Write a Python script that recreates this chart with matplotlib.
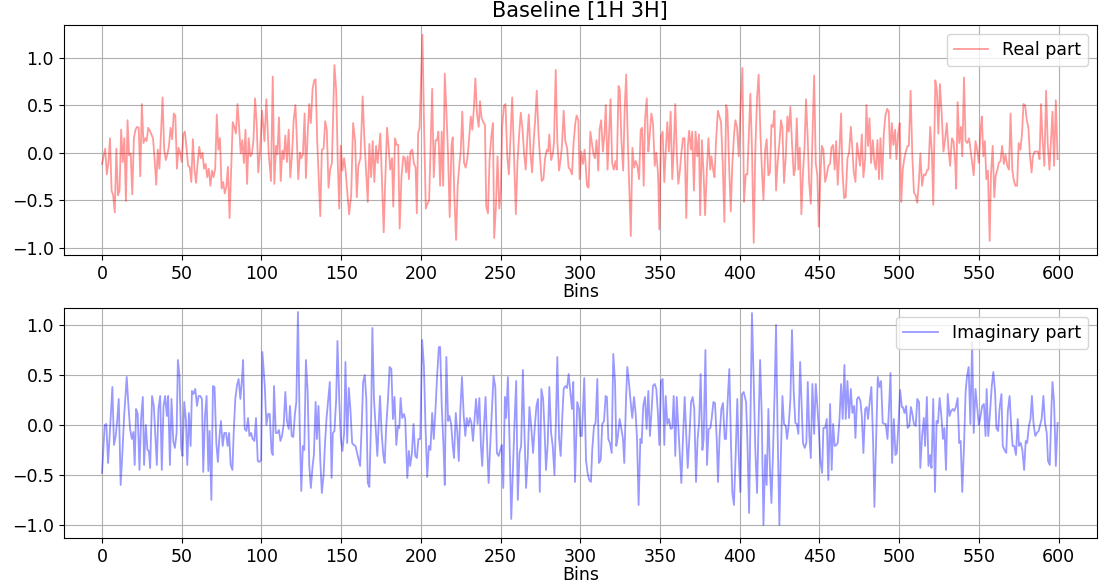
import numpy as np
from matplotlib import pyplot as plt

# values (turning points, bin -> value)
real_bins = [0,1,2,3,4,5,6,7,8,9,10,11,12,13,14,15,16,17,18,19,20,21,22,23,24,25,26,27,28,29,30,31,32,33,34,35,36,37,38,39,40,41,42,43,44,45,46,47,48,49,50,51,52,53,54,55,56,57,58,59,60,61,62,63,64,65,66,67,68,69,70,71,72,73,74,75,76,77,78,79,80,81,82,83,84,85,86,87,88,89,90,91,92,93,94,95,96,97,98,99,
    100.4,101.9,103.1,104.6,106.0,107.1,108.1,109.2,110.0,111.0,112.1,113.1,114.0,115.0,116.0,117.1,118.1,119.2,120.2,121.3,122.1,123.1,124.2,125.0,126.0,127.1,127.9,129.0,130.0,131.0,132.1,133.1,134.0,135.0,136.9,137.9,139.0,140.0,141.0,142.1,143.1,144.2,145.8,146.9,147.9,148.8,149.8,150.8,151.9,152.9,154.0,155.0,156.3,157.5,158.8,159.8,160.8,162.1,163.5,164.6,165.6,166.7,167.7,168.8,169.8,170.8,171.9,172.9,174.6,175.6,176.7,177.5,178.8,179.8,180.8,181.9,182.7,183.8,184.8,185.8,186.7,187.9,189.0,190.0,190.8,191.7,192.5,193.5,194.6,195.6,196.7,197.5,198.3,199.2,
    201.0,202.1,203.1,204.2,205.2,206.0,207.1,208.1,209.2,210.2,211.0,212.1,213.1,214.0,215.0,216.0,217.1,218.1,219.2,220.0,221.0,222.1,223.1,224.2,225.0,226.0,227.1,228.1,229.2,230.2,231.3,232.3,233.3,234.2,235.2,236.3,237.1,238.1,239.2,240.2,241.0,242.1,243.1,244.2,245.2,246.0,247.1,248.1,249.2,250.2,251.0,252.1,253.1,254.2,255.2,256.3,257.3,258.3,259.6,260.6,261.7,262.7,263.8,264.8,265.8,266.9,267.7,268.8,269.8,270.8,271.7,272.7,273.8,274.8,275.8,276.9,277.9,279.0,279.8,280.6,281.7,282.7,283.5,284.6,285.6,286.7,287.7,288.5,289.6,290.6,291.7,292.7,293.8,294.8,295.8,296.9,297.7,298.8,299.6,300.6,301.7,302.7,
    303.3,304.2,305.2,306.3,307.3,308.3,309.2,310.2,311.3,312.1,313.1,314.2,315.2,316.0,317.1,318.1,319.0,320.0,321.0,322.1,322.9,324.0,324.8,325.8,326.9,327.9,328.8,329.8,330.6,331.7,332.7,333.8,334.8,335.8,336.9,337.9,338.8,339.8,340.6,341.7,342.7,343.5,344.6,345.6,346.7,347.7,348.8,349.6,350.6,351.7,352.7,353.8,354.6,355.6,356.7,357.7,358.5,359.6,360.6,361.5,362.5,363.5,364.4,365.4,366.5,367.5,368.3,369.4,370.2,371.3,372.3,373.4,374.4,375.2,376.3,377.3,378.3,379.4,380.4,381.5,382.3,383.3,384.2,385.2,386.3,387.3,388.3,389.4,390.4,391.5,392.3,393.3,394.4,395.4,396.5,397.3,398.3,399.4,400.5,
    401.7,402.7,403.8,404.8,406.7,407.7,408.8,409.8,410.9,411.9,413.0,414.0,414.9,416.0,416.9,418.0,419.0,419.9,420.9,421.8,422.8,423.8,424.9,425.9,426.8,427.8,428.9,429.9,430.8,431.8,432.8,433.9,434.7,435.8,436.8,437.7,438.7,439.7,440.6,441.6,442.7,443.5,444.6,445.6,446.7,447.7,448.7,449.6,450.6,451.5,452.5,453.6,454.6,455.6,456.7,457.5,458.6,459.6,460.5,461.5,462.6,463.6,464.4,465.5,466.5,467.6,468.6,469.7,470.7,471.5,472.6,473.6,474.7,475.5,476.6,477.6,478.7,479.5,480.5,481.4,482.4,483.5,484.5,485.4,486.4,487.4,488.3,489.4,490.4,491.4,492.5,493.5,494.4,495.4,496.4,497.5,498.3,499.4,500.4,501.3,502.3,
    503.2,504.2,505.3,506.1,507.2,508.3,509.3,510.4,511.4,512.5,513.3,514.4,515.5,516.5,517.6,518.4,519.5,520.6,521.4,522.7,523.7,524.6,525.6,526.7,527.8,528.8,529.9,530.9,532.0,533.1,534.1,535.2,535.8,536.7,537.7,538.8,539.6,540.7,541.7,542.8,543.9,544.9,545.8,546.8,547.9,548.9,550.0,551.1,551.9,552.8,553.8,554.7,555.7,556.8,557.6,558.7,559.7,560.6,561.7,562.5,563.6,564.6,565.7,566.7,567.8,568.9,569.9,571.0,571.8,572.9,574.0,575.0,576.1,577.1,578.0,579.0,580.1,581.1,582.0,583.1,583.9,585.0,586.0,587.1,588.1,589.0,590.0,591.1,592.2,593.2,594.3,595.3,596.2,597.2,598.3,599.4]
real_vals = [-0.12,-0.04,0.04,-0.23,-0.11,0.15,-0.40,-0.45,-0.63,0.04,-0.45,-0.40,0.24,-0.10,0.15,-0.51,0.34,-0.03,-0.01,-0.44,0.15,0.24,0.27,0.26,-0.25,0.51,0.10,0.15,0.12,0.26,0.23,0.19,0.15,-0.07,-0.34,0.03,-0.17,0.20,0.58,0.03,-0.08,-0.02,0.07,0.26,0.14,0.41,0.39,-0.17,0.05,0.0,-0.10,0.19,0.22,0.05,-0.14,-0.15,-0.31,0.14,-0.18,-0.32,-0.11,0.06,-0.06,0.0,-0.17,-0.12,-0.26,-0.17,-0.35,-0.19,-0.26,-0.17,0.40,0.03,0.15,-0.38,-0.31,-0.43,-0.36,-0.15,-0.69,-0.17,0.32,0.27,0.20,0.51,0.27,-0.01,0.13,-0.11,0.24,-0.33,0.15,-0.04,-0.02,0.13,0.57,0.31,-0.21,-0.02,
    0.44,0.12,0.56,-0.02,-0.30,0.80,-0.33,0.07,-0.02,0.37,-0.30,0.02,-0.07,0.18,-0.10,0.24,-0.26,-0.02,0.34,0.50,0.20,-0.28,0.0,-0.06,-0.02,0.41,-0.27,0.20,0.51,0.31,0.67,0.76,0.77,0.12,-0.67,0.03,0.04,0.33,0.24,-0.37,-0.18,-0.11,0.92,0.65,-0.11,-0.59,0.07,-0.19,-0.06,-0.21,-0.45,-0.65,-0.45,0.31,0.12,-0.47,-0.14,-0.06,0.59,0.13,-0.19,-0.52,0.09,-0.26,0.12,-0.31,0.07,-0.11,0.20,-0.30,-0.84,-0.38,0.26,0.05,-0.18,-0.06,-0.57,0.15,0.08,0.08,-0.80,-0.24,-0.04,-0.06,-0.21,-0.04,-0.28,0.01,0.03,-0.11,-0.16,-0.64,0.20,0.26,
    1.24,0.20,-0.59,-0.54,-0.50,0.0,0.67,-0.26,0.13,0.13,0.22,-0.35,0.22,-0.35,0.83,0.44,-0.04,-0.68,0.07,0.16,-0.45,-0.92,-0.35,-0.12,0.01,0.43,-0.11,-0.16,-0.06,0.13,0.38,0.24,0.48,0.78,0.41,0.27,0.54,0.36,0.32,0.29,-0.57,-0.64,-0.07,0.17,0.31,-0.90,-0.57,-0.04,-0.59,-0.38,0.27,0.49,0.51,-0.04,-0.23,0.20,0.58,0.03,-0.65,-0.11,0.20,0.42,0.24,-0.02,-0.18,0.20,0.40,-0.02,-0.21,0.13,0.34,0.65,0.20,-0.07,-0.30,-0.28,-0.06,0.03,0.01,0.19,-0.08,-0.02,0.10,0.87,0.12,-0.19,-0.07,0.07,0.44,0.12,0.05,-0.16,-0.18,-0.23,0.10,0.31,0.39,0.34,-0.28,0.01,-0.12,0.03,
    -0.11,-0.35,-0.37,0.22,0.10,-0.02,-0.06,0.13,-0.19,0.24,0.34,0.01,0.20,0.50,-0.18,0.20,0.56,-0.11,-0.18,-0.09,-0.18,0.70,0.65,0.13,-0.19,0.48,0.82,0.13,-0.31,-0.88,0.05,-0.16,-0.09,-0.14,-0.28,0.24,0.26,-0.35,0.34,0.57,0.01,0.17,0.41,0.31,-0.14,0.0,-0.23,-0.81,0.17,0.22,-0.31,0.08,0.32,0.01,0.43,-0.28,-0.02,0.51,-0.04,-0.33,-0.19,0.01,0.15,0.15,-0.69,0.07,0.23,0.03,0.22,-0.40,0.22,-0.04,0.19,-0.66,0.13,-0.21,-0.66,-0.18,0.15,-0.18,-0.04,-0.18,-0.26,0.13,0.44,0.38,0.32,-0.14,-0.73,0.50,0.44,-0.11,-0.62,-0.11,0.20,0.34,0.27,-0.04,0.48,
    0.89,-0.52,-0.23,-0.23,0.62,0.03,-0.95,0.03,0.58,0.82,0.20,-0.21,-0.50,0.03,0.14,-0.24,-0.21,0.29,0.27,0.44,-0.40,-0.11,0.10,0.34,0.26,-0.32,-0.04,0.38,0.22,0.48,0.10,-0.24,-0.18,0.36,-0.18,0.05,-0.65,-0.21,0.03,0.56,0.13,-0.30,-0.54,0.13,0.81,-0.11,-0.24,-0.78,-0.26,0.07,0.03,-0.31,-0.24,-0.14,-0.12,0.05,0.08,-0.18,0.12,-0.34,0.03,0.41,-0.18,-0.48,-0.47,-0.06,0.0,0.27,0.03,-0.20,-0.31,0.10,-0.04,-0.14,0.19,-0.26,-0.07,0.50,0.07,0.36,-0.11,0.13,-0.11,-0.18,0.13,-0.28,0.15,-0.28,0.20,0.39,0.46,0.43,-0.06,0.31,0.08,0.24,-0.07,0.20,0.31,-0.52,-0.18,
    -0.07,0.01,0.07,0.07,0.65,-0.04,-0.42,-0.45,-0.53,-0.28,-0.01,-0.35,-0.23,-0.24,-0.18,-0.18,0.27,-0.02,-0.55,0.76,0.65,0.20,0.72,0.41,0.01,0.13,0.31,0.05,-0.14,0.15,0.12,-0.11,-0.38,0.53,0.10,0.27,-0.04,0.79,0.12,0.10,0.15,0.01,-0.11,-0.24,0.12,0.03,-0.11,0.24,0.38,-0.04,0.12,-0.28,-0.19,-0.93,-0.24,0.07,-0.47,-0.24,-0.18,-0.11,-0.09,0.07,-0.12,-0.02,-0.14,-0.18,0.41,-0.18,-0.28,-0.35,-0.35,0.10,0.03,0.20,0.51,0.50,0.34,0.26,-0.02,-0.21,-0.04,0.01,0.01,0.01,-0.07,0.51,0.13,-0.14,0.65,0.10,-0.18,0.13,0.43,-0.14,0.55,-0.07]

imag_bins = [0,0.6,1.7,2.7,3.8,4.8,6.5,7.5,8.6,9.6,10.5,11.7,12.8,13.8,15.5,16.6,17.6,18.7,19.7,20.5,21.4,22.4,23.5,24.5,25.6,26.4,27.5,28.5,29.4,30.2,31.4,32.5,33.5,34.4,35.4,36.5,37.5,38.6,39.6,40.7,41.5,42.6,43.6,44.7,45.7,46.8,47.6,48.6,49.7,50.5,51.6,52.6,53.5,54.5,55.6,56.4,57.4,58.5,59.6,60.6,61.6,62.7,63.5,64.6,65.6,66.7,67.5,68.6,69.6,70.6,71.7,72.7,73.6,74.6,75.7,76.7,77.8,78.8,79.7,80.7,81.8,82.6,83.6,84.7,85.7,86.8,87.8,88.5,89.5,90.6,91.6,92.5,93.5,94.5,95.6,96.6,97.7,98.7,99.8,100.6,
    102.1,103.1,104.2,105.2,106.3,107.1,107.9,109.0,110.0,111.0,111.9,112.9,114.0,115.0,116.0,117.1,117.9,119.0,120.0,121.0,121.9,122.9,124.0,125.0,126.0,126.9,127.9,129.0,130.0,131.0,132.1,132.9,134.0,134.8,135.8,136.9,137.9,139.0,139.8,140.8,141.9,142.9,144.0,144.8,145.8,146.9,147.7,148.8,149.8,150.8,151.9,152.7,153.8,154.8,155.8,156.9,157.9,159.0,160.0,161.0,161.9,162.9,163.8,164.8,165.8,166.7,167.7,168.8,169.6,170.6,171.7,172.7,173.5,174.4,175.4,176.5,177.3,178.3,179.4,180.4,181.5,182.5,183.5,184.6,185.6,186.5,187.3,188.3,189.4,190.2,191.5,192.5,193.3,194.4,195.4,196.5,197.5,198.5,199.6,
    200.8,201.9,202.9,204.0,205.0,206.0,207.1,208.1,209.2,210.2,211.3,212.1,213.1,214.2,215.0,216.0,217.1,217.9,219.0,220.0,220.8,221.9,222.9,223.8,224.8,225.8,226.9,227.9,228.8,229.8,230.8,231.7,232.7,233.8,234.6,235.6,236.7,237.7,238.5,239.6,240.6,241.7,242.5,243.5,244.6,245.6,246.7,247.7,248.8,249.8,250.8,251.7,252.7,253.5,254.6,255.6,256.7,257.7,258.8,259.8,260.8,261.9,262.9,264.0,265.0,266.0,267.1,268.1,269.2,270.4,271.5,272.5,273.5,274.6,275.6,276.7,277.5,278.5,279.6,280.6,281.7,282.7,283.8,284.8,285.6,286.7,287.7,288.8,289.6,290.6,291.7,292.7,293.8,294.8,295.6,296.7,
    298.1,299.2,300.0,301.0,302.5,303.6,304.6,305.6,306.7,307.5,308.6,309.6,310.7,311.7,312.8,313.8,314.9,315.9,316.7,317.6,318.6,319.7,320.7,321.8,322.6,323.6,324.7,325.7,326.8,327.6,328.7,329.5,330.5,331.6,332.6,333.7,334.7,335.6,336.6,337.7,338.5,339.5,340.6,341.6,342.7,343.7,344.8,345.6,346.7,347.7,348.7,349.6,350.6,351.7,352.7,353.6,354.6,355.6,356.7,357.7,358.6,359.6,360.5,361.5,362.6,363.4,364.4,365.5,366.5,367.4,368.4,369.5,370.5,371.5,372.6,373.6,374.5,375.5,376.6,377.4,378.5,379.5,380.5,381.6,382.4,383.5,384.5,385.6,386.4,387.4,388.5,389.5,390.6,391.4,392.5,393.5,394.6,395.4,396.4,397.5,398.5,399.4,400.4,401.5,402.5,
    404.0,404.8,405.9,406.9,407.7,408.8,409.8,410.9,411.7,412.8,413.8,414.9,416.0,416.9,418.0,419.0,419.9,420.9,422.0,422.8,423.8,424.9,425.7,426.8,427.8,428.9,429.7,430.8,431.8,432.8,433.9,434.9,435.8,436.8,437.9,438.9,439.7,440.8,441.8,442.7,443.7,444.6,445.6,446.7,447.7,448.7,449.6,450.6,451.7,452.5,453.6,454.6,455.6,456.7,457.7,458.6,459.6,460.7,461.5,462.6,463.6,464.6,465.7,466.5,467.6,468.6,469.7,470.7,471.8,472.6,473.6,474.7,475.7,476.6,477.6,478.7,479.7,480.5,481.6,482.6,483.7,484.5,485.6,486.6,487.7,488.7,489.7,490.8,491.6,492.7,493.7,494.6,495.6,496.7,497.7,498.5,499.6,500.6,501.7,
    502.3,503.4,504.4,505.3,506.4,507.4,508.3,509.3,510.4,511.4,512.5,513.3,514.4,515.5,516.3,517.4,518.4,519.5,520.3,521.4,522.5,523.5,524.4,525.4,526.5,527.5,528.4,529.4,530.5,531.6,532.6,533.7,534.5,535.6,536.7,537.7,538.6,539.6,540.7,541.7,542.6,543.6,544.7,545.8,546.8,547.9,548.9,550.0,551.1,552.1,553.2,554.2,554.9,555.9,557.0,558.1,559.1,560.2,561.0,562.1,563.1,564.2,565.0,566.1,567.2,568.2,569.3,570.3,571.2,572.2,573.3,574.4,575.2,576.3,577.3,578.4,579.4,580.3,581.4,582.4,583.3,584.3,585.4,586.4,587.5,588.3,589.4,590.5,591.5,592.6,593.4,594.5,595.6,596.2,597.2,598.3,599.4]
imag_vals = [-0.48,-0.31,0.0,0.01,-0.38,-0.11,0.38,-0.20,-0.11,0.06,0.26,-0.60,-0.28,0.07,0.48,0.19,-0.04,-0.14,-0.07,-0.40,0.16,0.11,-0.45,0.06,0.28,-0.40,0.0,-0.25,-0.26,-0.43,0.29,0.19,-0.11,-0.40,0.16,0.29,-0.45,0.19,0.29,0.09,0.29,-0.40,0.26,-0.16,-0.23,-0.08,0.65,0.49,-0.23,-0.31,0.23,0.06,-0.40,0.12,-0.21,0.34,0.31,0.36,0.19,0.29,0.29,0.26,-0.47,0.09,0.29,-0.46,-0.06,-0.75,0.39,0.38,-0.18,-0.37,-0.13,0.04,-0.21,-0.08,-0.08,-0.21,-0.08,-0.40,-0.45,-0.08,0.26,0.40,0.46,0.26,0.46,0.65,-0.04,-0.06,0.07,-0.11,-0.08,-0.14,-0.16,0.07,-0.36,-0.37,-0.35,0.73,
    0.39,0.0,0.11,0.11,-0.26,-0.30,0.39,-0.08,-0.08,-0.05,-0.16,-0.11,0.01,0.33,0.04,-0.04,0.19,-0.11,-0.12,0.11,0.23,1.13,-0.01,-0.66,-0.21,-0.25,0.65,0.33,-0.40,-0.63,-0.41,-0.30,0.23,-0.14,0.19,-0.35,-0.68,-0.50,-0.21,0.06,0.26,0.43,-0.53,-0.08,-0.06,0.26,0.84,0.26,-0.14,-0.26,-0.08,0.63,-0.18,0.37,0.16,-0.18,-0.20,-0.21,-0.28,-0.35,-0.41,-0.01,0.43,0.50,0.26,-0.58,-0.62,0.06,0.97,0.26,-0.04,-0.31,-0.01,0.29,-0.08,-0.31,-0.38,-0.01,0.26,0.58,0.56,0.06,0.28,-0.20,-0.01,-0.03,0.27,0.07,0.11,0.06,-0.53,-0.26,-0.41,-0.28,0.01,-0.31,-0.33,-0.14,-0.14,
    0.85,0.60,-0.01,-0.52,-0.21,-0.25,0.12,-0.14,0.16,0.49,0.78,0.78,0.19,-0.21,-0.60,0.68,0.04,0.09,0.01,-0.21,-0.33,0.12,-0.08,-0.36,0.16,0.48,0.09,-0.11,0.07,-0.01,0.07,0.02,-0.16,0.09,0.26,0.01,0.27,-0.21,-0.41,-0.01,0.28,-0.25,-0.58,-0.21,0.16,0.49,0.38,-0.28,-0.31,-0.25,-0.20,-0.63,0.28,0.07,0.48,-0.14,-0.94,-0.48,0.04,0.44,-0.75,-0.28,-0.21,0.55,-0.08,-0.63,-0.31,0.18,-0.01,-0.28,-0.01,0.19,0.26,-0.67,0.36,0.26,-0.01,-0.45,-0.18,0.38,-0.08,-0.21,-0.50,0.09,0.68,-0.13,-0.31,0.11,0.36,0.39,0.37,0.51,0.33,0.16,0.43,-0.57,
    0.23,0.16,-0.11,-0.11,0.47,-0.35,-0.48,-0.55,-0.57,-0.25,-0.01,0.02,0.46,-0.38,-0.35,0.01,0.04,0.29,0.28,-0.14,-0.18,-0.28,0.71,0.43,-0.21,-0.11,0.06,-0.03,-0.14,-0.38,0.26,0.58,0.43,0.23,0.07,0.28,0.12,-0.14,-0.80,-0.14,-0.18,0.19,0.28,-0.04,0.34,-0.11,0.16,0.39,0.41,0.36,0.12,-0.20,0.44,0.46,-0.20,0.29,0.01,0.06,-0.04,-0.03,0.29,-0.31,0.28,-0.01,-0.31,-0.58,-0.14,0.28,-0.11,-0.43,-0.14,0.23,0.28,0.16,-0.57,-0.14,0.02,0.51,-0.25,-0.14,0.75,-0.40,-0.04,-0.03,0.06,0.23,0.22,-0.14,-0.57,-0.11,0.16,0.22,-0.14,-0.14,0.26,0.56,-0.23,-0.68,-0.80,-0.28,0.26,-0.31,-0.67,0.31,0.33,
    0.23,-0.14,-0.88,0.26,1.12,0.43,-0.25,-0.68,-0.08,0.65,0.11,-1.0,-0.30,-0.60,0.16,-0.45,-0.78,-0.28,0.39,1.0,-0.08,-1.0,-0.38,0.29,0.01,-0.01,-0.14,0.01,0.26,0.95,0.33,0.02,0.01,-0.09,0.63,0.19,-0.18,-0.23,-0.18,0.43,-0.11,-0.33,0.41,-0.09,0.41,0.19,-0.03,-0.36,-0.48,-0.03,-0.03,0.06,-0.55,0.21,-0.45,0.01,-0.21,-0.20,-0.18,0.06,0.41,0.06,0.60,0.06,0.44,0.07,0.36,0.12,0.19,-0.13,0.26,0.28,0.24,0.09,-0.28,0.16,0.18,0.06,0.24,0.38,-0.18,-0.82,-0.14,0.48,0.38,0.44,0.02,0.01,0.01,-0.14,0.19,0.52,-0.38,0.06,-0.30,-0.28,0.01,0.35,0.18,
    0.18,0.12,0.19,-0.03,-0.01,0.18,0.11,0.01,-0.01,0.26,0.23,-0.43,-0.11,0.07,-0.21,0.28,-0.41,-0.30,-0.43,0.26,-0.67,0.04,0.02,0.27,0.09,-0.14,-0.03,-0.45,0.31,0.09,0.14,0.16,0.14,0.18,0.27,-0.18,-0.16,-0.67,-0.21,0.33,0.49,0.58,0.01,0.83,-0.08,0.36,0.19,0.0,0.09,0.19,0.21,-0.11,0.36,-0.11,0.12,0.39,0.53,0.33,-0.03,-0.06,0.18,0.31,-0.21,-0.25,-0.28,0.14,0.29,-0.01,-0.21,-0.21,-0.30,0.06,-0.21,-0.18,-0.25,-0.45,-0.16,-0.18,-0.01,0.06,0.29,0.02,-0.11,-0.08,-0.06,-0.01,0.06,0.29,0.02,-0.08,-0.36,-0.40,0.19,0.43,0.23,-0.41,0.02]

xticks = np.arange(0, 601, 50)
yticks = [-1.0, -0.5, 0.0, 0.5, 1.0]

fig, (ax1, ax2) = plt.subplots(2, 1, figsize=(10.99, 5.86), dpi=100)
plt.subplots_adjust(left=0.058, right=0.998, top=0.957, bottom=0.082, hspace=0.23)

ax1.plot(real_bins, real_vals, color='red', alpha=0.4, lw=1.3, label='Real part')
ax1.set_title('Baseline [1H 3H]', fontsize=15)
ax1.set_ylim(-1.08, 1.34)

ax2.plot(imag_bins, imag_vals, color='blue', alpha=0.4, lw=1.3, label='Imaginary part')
ax2.set_ylim(-1.13, 1.17)

for ax in (ax1, ax2):
    ax.set_xticks(xticks)
    ax.set_yticks(yticks)
    ax.set_xlim(-24, 624)
    ax.grid(True, color='#b0b0b0', lw=0.8)
    ax.tick_params(labelsize=12.5)
    ax.set_xlabel('Bins', fontsize=12.5, labelpad=0)
    ax.legend(loc='upper right', fontsize=12.5)

plt.savefig('out.png')
